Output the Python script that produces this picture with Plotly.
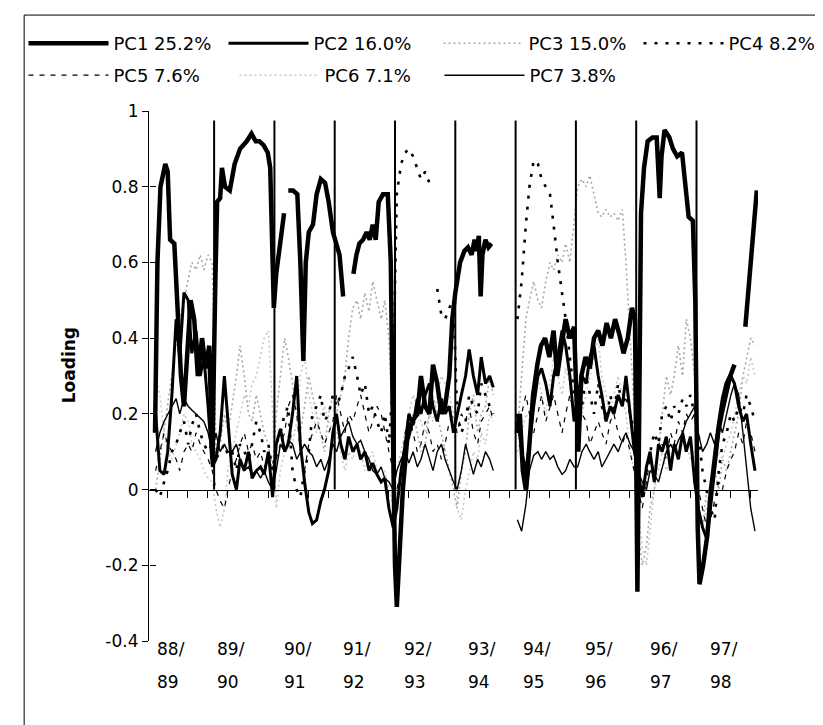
import plotly.graph_objects as go

# ---------------- data ----------------
season_top = ["88/", "89/", "90/", "91/", "92/", "93/", "94/", "95/", "96/", "97/"]
season_bottom = ["89", "90", "91", "92", "93", "94", "95", "96", "97", "98"]
label_x = [0.02, 1.01, 2.12, 3.11, 4.11, 5.18, 6.09, 7.12, 8.2, 9.19]
boundaries = [1, 2, 3, 4, 5, 6, 7, 8, 9]
boundary_top = 0.975
y_ticks = [1, 0.8, 0.6, 0.4, 0.2, 0, -0.2, -0.4]
y_tick_text = ["1", "0.8", "0.6", "0.4", "0.2", "0", "-0.2", "-0.4"]

# sampling positions inside each season (fraction of the season)
offsets = [0.03, 0.1, 0.17, 0.23, 0.3, 0.37, 0.43, 0.5, 0.57, 0.63, 0.7, 0.77, 0.83, 0.9, 0.97]
N = None

# PC1 : own positions (season units), segments separated by gaps
pc1_x_segments = [
    [0.02, 0.06, 0.11, 0.19, 0.23, 0.27, 0.34, 0.39, 0.45, 0.5, 0.55, 0.61, 0.67, 0.73, 0.8, 0.86, 0.92, 0.97,
     1.02, 1.05, 1.1, 1.13, 1.18, 1.26, 1.34, 1.43, 1.54, 1.62, 1.69, 1.75, 1.82, 1.89, 1.93, 1.97, 1.99,
     2.03, 2.1, 2.16],
    [2.23, 2.31, 2.38, 2.43, 2.48, 2.52, 2.57, 2.64, 2.7, 2.77, 2.84, 2.9, 2.97, 3.03, 3.08, 3.14],
    [3.31, 3.36, 3.41, 3.47, 3.53, 3.58, 3.63, 3.68, 3.73, 3.8, 3.88, 3.93, 3.97, 4.0,
     4.03, 4.08, 4.13, 4.2, 4.28, 4.37, 4.43, 4.5, 4.57, 4.63, 4.7, 4.77, 4.83, 4.9, 4.95, 5.0,
     5.03, 5.08, 5.15, 5.21, 5.27, 5.32, 5.35, 5.39, 5.42, 5.45, 5.5, 5.55, 5.6],
    [6.02, 6.07, 6.12, 6.17, 6.22, 6.29, 6.36, 6.42, 6.49, 6.56, 6.63, 6.69, 6.76, 6.83, 6.9, 6.97,
     7.04, 7.09, 7.16, 7.23, 7.3, 7.37, 7.44, 7.51, 7.58, 7.65, 7.72, 7.79, 7.86, 7.93, 7.98,
     8.02, 8.05, 8.08, 8.13, 8.19, 8.27, 8.34, 8.39, 8.42, 8.47, 8.55, 8.61, 8.68, 8.76, 8.82, 8.87, 8.94, 8.98, 9.02,
     9.05, 9.11, 9.18, 9.24, 9.31, 9.37, 9.44, 9.5, 9.56, 9.63],
    [9.81, 9.87, 9.94, 10.0],
]
pc1_y_segments = [
    [0.15, 0.6, 0.8, 0.86, 0.84, 0.66, 0.65, 0.5, 0.3, 0.22, 0.35, 0.5, 0.45, 0.3, 0.4, 0.32, 0.38, 0.08,
     0.55, 0.76, 0.77, 0.85, 0.8, 0.79, 0.86, 0.9, 0.92, 0.94, 0.92, 0.92, 0.91, 0.89, 0.85, 0.6, 0.48,
     0.57, 0.66, 0.73],
    [0.79, 0.79, 0.78, 0.6, 0.34, 0.6, 0.68, 0.7, 0.78, 0.82, 0.81, 0.76, 0.68, 0.65, 0.62, 0.51],
    [0.57, 0.62, 0.65, 0.66, 0.68, 0.66, 0.7, 0.66, 0.76, 0.78, 0.78, 0.6, 0.1, -0.2,
     -0.31, -0.15, 0.0, 0.13, 0.18, 0.2, 0.3, 0.22, 0.2, 0.33, 0.28, 0.2, 0.22, 0.3, 0.45, 0.52,
     0.55, 0.6, 0.63, 0.64, 0.62, 0.66, 0.63, 0.67, 0.51, 0.62, 0.66, 0.64, 0.65],
    [0.15, 0.2, 0.05, 0.0, 0.1, 0.25, 0.33, 0.38, 0.4, 0.35, 0.42, 0.3, 0.38, 0.45, 0.4, 0.43,
     0.1, 0.3, 0.35, 0.32, 0.4, 0.42, 0.38, 0.44, 0.4, 0.45, 0.41, 0.36, 0.4, 0.48, 0.45,
     -0.27, 0.2, 0.73, 0.85, 0.92, 0.93, 0.93, 0.77, 0.88, 0.95, 0.93, 0.9, 0.88, 0.89, 0.8, 0.72, 0.71, 0.5, -0.1,
     -0.25, -0.2, -0.12, 0.0, 0.1, 0.17, 0.24, 0.28, 0.3, 0.33],
    [0.43, 0.55, 0.68, 0.79],
]

# PC2..PC7 : one list of 15 values per season
pc2 = [
    [0.2, 0.05, 0.04, 0.1, 0.25, 0.45, 0.35, 0.52, 0.5, 0.36, 0.42, 0.3, 0.35, 0.22, 0.06],
    [0.08, 0.15, 0.3, 0.18, 0.04, 0.0, 0.08, 0.05, 0.1, 0.03, 0.05, 0.06, 0.04, 0.1, -0.02],
    [0.12, 0.16, 0.1, 0.12, 0.2, 0.3, 0.12, 0.02, -0.06, -0.09, -0.08, -0.03, 0.0, 0.05, 0.15],
    [0.2, 0.12, 0.08, 0.14, 0.1, 0.12, 0.08, 0.1, 0.05, 0.07, 0.04, 0.02, 0.03, -0.05, -0.1],
    [-0.05, 0.05, 0.12, 0.2, 0.17, 0.24, 0.2, 0.25, 0.28, 0.22, 0.18, 0.24, 0.2, 0.22, 0.15],
    [0.2, 0.25, 0.3, 0.37, 0.3, 0.25, 0.35, 0.28, 0.3, 0.27, N, N, N, N, N],
    [0.2, 0.1, 0.05, 0.12, 0.22, 0.3, 0.32, 0.28, 0.22, 0.3, 0.35, 0.42, 0.38, 0.3, 0.18],
    [0.25, 0.3, 0.28, 0.35, 0.38, 0.3, 0.25, 0.18, 0.22, 0.2, 0.25, 0.22, 0.3, 0.2, 0.1],
    [0.05, -0.02, 0.06, 0.1, 0.02, 0.12, 0.1, 0.14, 0.05, 0.12, 0.08, 0.15, 0.1, 0.14, 0.02],
    [-0.05, -0.1, -0.13, -0.05, 0.05, 0.15, 0.2, 0.25, 0.3, 0.28, 0.22, 0.18, 0.2, 0.12, 0.05],
]
pc3 = [
    [0.0, 0.08, 0.15, 0.22, 0.3, 0.38, 0.45, 0.5, 0.55, 0.6, 0.58, 0.62, 0.58, 0.62, 0.6],
    [0.1, 0.12, 0.2, 0.15, 0.22, 0.3, 0.38, 0.3, 0.2, 0.18, 0.25, 0.2, 0.15, 0.12, 0.05],
    [0.2, 0.3, 0.4, 0.35, 0.28, 0.2, 0.15, 0.22, 0.3, 0.25, 0.2, 0.15, 0.1, 0.2, 0.25],
    [0.2, 0.25, 0.3, 0.4, 0.48, 0.5, 0.45, 0.52, 0.47, 0.55, 0.5, 0.45, 0.5, 0.4, 0.1],
    [-0.05, 0.05, 0.1, 0.15, 0.2, 0.15, 0.1, 0.12, 0.2, 0.25, 0.2, 0.15, 0.1, 0.05, 0.0],
    [-0.05, 0.05, 0.1, 0.2, 0.25, 0.15, 0.2, 0.22, 0.3, 0.25, N, N, N, N, N],
    [0.15, 0.3, 0.45, 0.5, 0.55, 0.5, 0.48, 0.55, 0.6, 0.58, 0.62, 0.6, 0.65, 0.6, 0.7],
    [0.8, 0.82, 0.8, 0.83, 0.78, 0.73, 0.72, 0.74, 0.72, 0.73, 0.71, 0.74, 0.6, 0.4, 0.2],
    [-0.1, -0.2, -0.15, -0.05, 0.0, 0.1, 0.2, 0.3, 0.25, 0.3, 0.38, 0.3, 0.45, 0.4, 0.3],
    [-0.05, -0.1, 0.0, -0.05, 0.05, 0.0, 0.08, 0.05, 0.1, 0.15, 0.2, 0.3, 0.35, 0.4, 0.38],
]
pc4 = [
    [0.0, -0.02, 0.02, 0.05, 0.1, 0.12, 0.15, 0.18, 0.12, 0.17, 0.2, 0.15, 0.12, 0.1, 0.12],
    [0.08, 0.1, 0.12, 0.09, 0.1, 0.05, 0.12, 0.1, 0.08, 0.12, 0.18, 0.15, 0.1, 0.12, 0.05],
    [0.12, 0.15, 0.2, 0.22, 0.05, 0.0, -0.02, 0.05, 0.1, 0.2, 0.22, 0.25, 0.18, 0.2, 0.25],
    [0.22, 0.25, 0.3, 0.32, 0.35, 0.3, 0.25, 0.28, 0.2, 0.22, 0.18, 0.15, 0.2, 0.12, 0.3],
    [0.78, 0.86, 0.89, 0.9, 0.88, 0.85, 0.82, 0.84, 0.81, N, 0.53, 0.46, 0.45, 0.48, 0.5],
    [0.2, 0.15, 0.18, 0.25, 0.22, 0.2, 0.28, 0.25, 0.22, 0.2, N, N, N, N, N],
    [0.45, 0.55, 0.7, 0.8, 0.87, 0.86, 0.82, 0.8, 0.78, 0.7, 0.6, 0.52, 0.45, 0.35, 0.25],
    [0.25, 0.22, 0.3, 0.25, 0.2, 0.28, 0.22, 0.18, 0.25, 0.2, 0.28, 0.22, 0.25, 0.2, 0.15],
    [0.05, 0.0, 0.05, 0.1, 0.15, 0.12, 0.2, 0.22, 0.18, 0.22, 0.2, 0.24, 0.22, 0.25, 0.2],
    [0.15, 0.05, 0.0, -0.05, -0.08, 0.05, 0.12, 0.15, 0.2, 0.18, 0.22, 0.2, 0.25, 0.22, 0.18],
]
pc5 = [
    [0.05, 0.1, 0.15, 0.12, 0.1, 0.08, 0.05, 0.1, 0.12, 0.1, 0.15, 0.12, 0.1, 0.08, 0.05],
    [0.0, -0.03, -0.05, 0.0, 0.05, 0.08, 0.12, 0.15, 0.1, 0.12, 0.08, 0.1, 0.06, 0.08, 0.05],
    [0.08, 0.12, 0.15, 0.22, 0.25, 0.2, 0.1, 0.05, 0.12, 0.15, 0.18, 0.15, 0.12, 0.15, 0.18],
    [0.25, 0.2, 0.15, 0.2, 0.18, 0.22, 0.25, 0.2, 0.15, 0.18, 0.22, 0.2, 0.15, 0.1, 0.05],
    [0.0, 0.05, 0.15, 0.2, 0.15, 0.1, 0.12, 0.18, 0.15, 0.1, 0.12, 0.08, 0.12, 0.18, 0.2],
    [0.15, 0.2, 0.18, 0.22, 0.15, 0.12, 0.18, 0.2, 0.22, 0.18, N, N, N, N, N],
    [0.15, 0.2, 0.25, 0.2, 0.15, 0.2, 0.25, 0.18, 0.22, 0.25, 0.2, 0.15, 0.2, 0.25, 0.2],
    [0.15, 0.2, 0.18, 0.12, 0.15, 0.18, 0.15, 0.12, 0.18, 0.2, 0.15, 0.12, 0.15, 0.1, 0.05],
    [0.0, -0.05, 0.02, 0.08, 0.05, 0.1, 0.12, 0.08, 0.15, 0.12, 0.18, 0.15, 0.2, 0.18, 0.2],
    [0.0, -0.05, -0.1, -0.08, -0.03, 0.02, 0.0, 0.05, 0.08, 0.1, 0.15, 0.12, 0.18, 0.15, 0.1],
]
pc6 = [
    [0.3, 0.25, 0.15, 0.1, 0.08, 0.12, 0.15, 0.2, 0.18, 0.12, 0.1, 0.08, 0.05, 0.03, 0.02],
    [-0.05, -0.1, -0.05, 0.05, 0.1, 0.15, 0.2, 0.25, 0.22, 0.28, 0.3, 0.35, 0.4, 0.42, 0.2],
    [-0.05, 0.05, 0.1, 0.15, 0.12, 0.18, 0.3, 0.35, 0.25, 0.2, 0.15, 0.2, 0.22, 0.18, 0.15],
    [0.15, 0.1, 0.05, 0.1, 0.08, 0.12, 0.1, 0.05, 0.08, 0.1, 0.05, 0.02, 0.05, 0.0, -0.05],
    [0.05, 0.1, 0.15, 0.2, 0.25, 0.22, 0.18, 0.15, 0.2, 0.18, 0.25, 0.3, 0.28, 0.25, 0.2],
    [-0.05, -0.08, 0.0, 0.05, 0.1, 0.08, 0.15, 0.12, 0.2, 0.18, N, N, N, N, N],
    [0.1, 0.15, 0.2, 0.18, 0.25, 0.3, 0.25, 0.2, 0.28, 0.35, 0.3, 0.25, 0.32, 0.28, 0.2],
    [0.15, 0.2, 0.25, 0.3, 0.35, 0.4, 0.3, 0.25, 0.2, 0.25, 0.3, 0.25, 0.2, 0.1, 0.05],
    [-0.05, -0.15, -0.2, -0.1, 0.0, 0.05, 0.1, 0.05, 0.08, 0.12, 0.1, 0.15, 0.12, 0.08, 0.1],
    [-0.05, -0.1, -0.05, 0.0, 0.05, 0.1, 0.08, 0.12, 0.15, 0.2, 0.25, 0.3, 0.28, 0.35, 0.3],
]
pc7 = [
    [0.1, 0.15, 0.18, 0.2, 0.22, 0.24, 0.2, 0.24, 0.22, 0.21, 0.2, 0.19, 0.18, 0.15, 0.1],
    [0.15, 0.1, 0.12, 0.1, 0.1, 0.12, 0.08, 0.05, 0.06, 0.04, 0.05, 0.03, 0.05, 0.02, 0.0],
    [0.05, 0.12, 0.1, 0.13, 0.12, 0.08, 0.1, 0.12, 0.1, 0.09, 0.06, 0.08, 0.05, 0.08, 0.12],
    [0.1, 0.14, 0.16, 0.18, 0.14, 0.12, 0.13, 0.1, 0.08, 0.05, 0.04, 0.06, 0.03, 0.02, 0.0],
    [0.05, 0.08, 0.1, 0.07, 0.1, 0.06, 0.08, 0.12, 0.08, 0.05, 0.1, 0.12, 0.08, 0.05, 0.02],
    [0.0, 0.05, 0.12, 0.08, 0.04, 0.08, 0.06, 0.1, 0.08, 0.05, N, N, N, N, N],
    [-0.08, -0.11, -0.04, 0.05, 0.09, 0.1, 0.08, 0.1, 0.08, 0.09, 0.06, 0.04, 0.05, 0.08, 0.06],
    [0.06, 0.1, 0.12, 0.1, 0.08, 0.1, 0.06, 0.08, 0.1, 0.12, 0.1, 0.13, 0.15, 0.12, 0.1],
    [0.05, 0.02, 0.0, 0.05, 0.04, 0.02, 0.06, 0.1, 0.12, 0.1, 0.13, 0.15, 0.18, 0.2, 0.22],
    [0.15, 0.1, 0.12, 0.15, 0.12, 0.18, 0.15, 0.2, 0.25, 0.28, 0.25, 0.15, 0.05, -0.05, -0.11],
]

# ---------------- helpers ----------------
grid_x = [s + o for s in range(len(season_top)) for o in offsets]


def flat(seasons):
    return [v for season in seasons for v in season]


def join(segments):
    out = []
    for i, seg in enumerate(segments):
        if i:
            out.append(None)
        out.extend(seg)
    return out


FONT = "DejaVu Sans"
W, H = 823, 725
fig = go.Figure()

styles = {
    "PC3": dict(color="#a8a8a8", width=1.6, dash="2px,3px"),
    "PC6": dict(color="#c8c8c8", width=1.6, dash="2px,3px"),
    "PC5": dict(color="black", width=1.2, dash="5px,6px"),
    "PC4": dict(color="black", width=2.6, dash="3px,8px"),
    "PC7": dict(color="black", width=1.4),
    "PC2": dict(color="black", width=3),
}
names = {"PC2": "PC2 16.0%", "PC3": "PC3 15.0%", "PC4": "PC4 8.2%",
         "PC5": "PC5 7.6%", "PC6": "PC6 7.1%", "PC7": "PC7 3.8%"}
series = {"PC2": pc2, "PC3": pc3, "PC4": pc4, "PC5": pc5, "PC6": pc6, "PC7": pc7}
legend_id = {"PC1": "legend", "PC2": "legend2", "PC3": "legend3", "PC4": "legend4",
             "PC5": "legend5", "PC6": "legend6", "PC7": "legend7"}

for key in ["PC3", "PC6", "PC5", "PC4", "PC7", "PC2"]:
    fig.add_trace(go.Scatter(x=grid_x, y=flat(series[key]), mode="lines", name=names[key],
                             line=styles[key], legend=legend_id[key], connectgaps=False,
                             hoverinfo="skip"))

fig.add_trace(go.Scatter(x=join(pc1_x_segments), y=join(pc1_y_segments), mode="lines",
                         name="PC1 25.2%", line=dict(color="black", width=4.5),
                         legend="legend", connectgaps=False, hoverinfo="skip"))

# season separators (drawn on the overlay axes, which carry the zero-line axis)
vx, vy = [], []
for b in boundaries:
    vx += [b, b, None]
    vy += [0, boundary_top, None]
fig.add_trace(go.Scatter(x=vx, y=vy, mode="lines", showlegend=False, xaxis="x2", yaxis="y2",
                         line=dict(color="black", width=2), hoverinfo="skip"))

x_range = [-0.08, 10.02]
annotations = []
for xl, top, bot in zip(label_x, season_top, season_bottom):
    annotations.append(dict(x=xl, y=-0.015, xref="x", yref="paper", text=top, showarrow=False,
                            xanchor="left", yanchor="middle", font=dict(family=FONT, size=17, color="black")))
    annotations.append(dict(x=xl, y=-0.077, xref="x", yref="paper", text=bot, showarrow=False,
                            xanchor="left", yanchor="middle", font=dict(family=FONT, size=17, color="black")))
annotations.append(dict(x=-0.13, y=0.52, xref="paper", yref="paper", text="<b>Loading</b>",
                        textangle=-90, showarrow=False, xanchor="center", yanchor="middle",
                        font=dict(family=FONT, size=17, color="black")))

# one single-entry legend per series, placed like the original two-row key
legend_place = {"legend": (22, 35), "legend2": (222, 35), "legend3": (437, 35), "legend4": (637, 35),
                "legend5": (22, 67), "legend6": (233, 67), "legend7": (438, 67)}
legends = {}
for lid, (sx, cy) in legend_place.items():
    legends[lid] = dict(orientation="h", xref="container", yref="container",
                        x=(sx - 6.5) / W, y=1 - (cy - 18) / H, xanchor="left", yanchor="top",
                        itemwidth=80, font=dict(family=FONT, size=18, color="black"),
                        bgcolor="rgba(0,0,0,0)")

fig.update_layout(
    width=W, height=H, autosize=False,
    margin=dict(l=141, r=73, t=103, b=92, autoexpand=False),
    paper_bgcolor="white", plot_bgcolor="white",
    font=dict(family=FONT, size=17, color="black"),
    xaxis=dict(range=x_range, showgrid=False, zeroline=False, showline=False,
               showticklabels=False, ticks="", automargin=False),
    xaxis2=dict(range=x_range, overlaying="x", anchor="free", position=0.4 / 1.4,
                showgrid=False, zeroline=False, showline=True, linecolor="black", linewidth=1.2,
                ticks="outside", ticklen=7, tickcolor="black", tick0=0.23, dtick=1 / 3,
                showticklabels=False, automargin=False),
    yaxis=dict(range=[-0.4, 1], tickvals=y_ticks, ticktext=y_tick_text, ticks="outside",
               ticklen=6, tickcolor="black", showline=True, linecolor="black", linewidth=1.2,
               showgrid=False, zeroline=False, tickfont=dict(family=FONT, size=17),
               automargin=False),
    yaxis2=dict(range=[-0.4, 1], overlaying="y", anchor="free", position=0, side="left",
                tickvals=y_ticks, ticks="inside", ticklen=6, tickcolor="black",
                showticklabels=False, showline=False, showgrid=False, zeroline=False,
                automargin=False),
    annotations=annotations,
    shapes=[dict(type="rect", xref="paper", yref="paper", x0=-0.205, x1=1.115, y0=-0.164, y1=1.181,
                 line=dict(color="black", width=1), layer="below")],
    showlegend=True,
    **legends,
)

fig.write_html("out.html")
